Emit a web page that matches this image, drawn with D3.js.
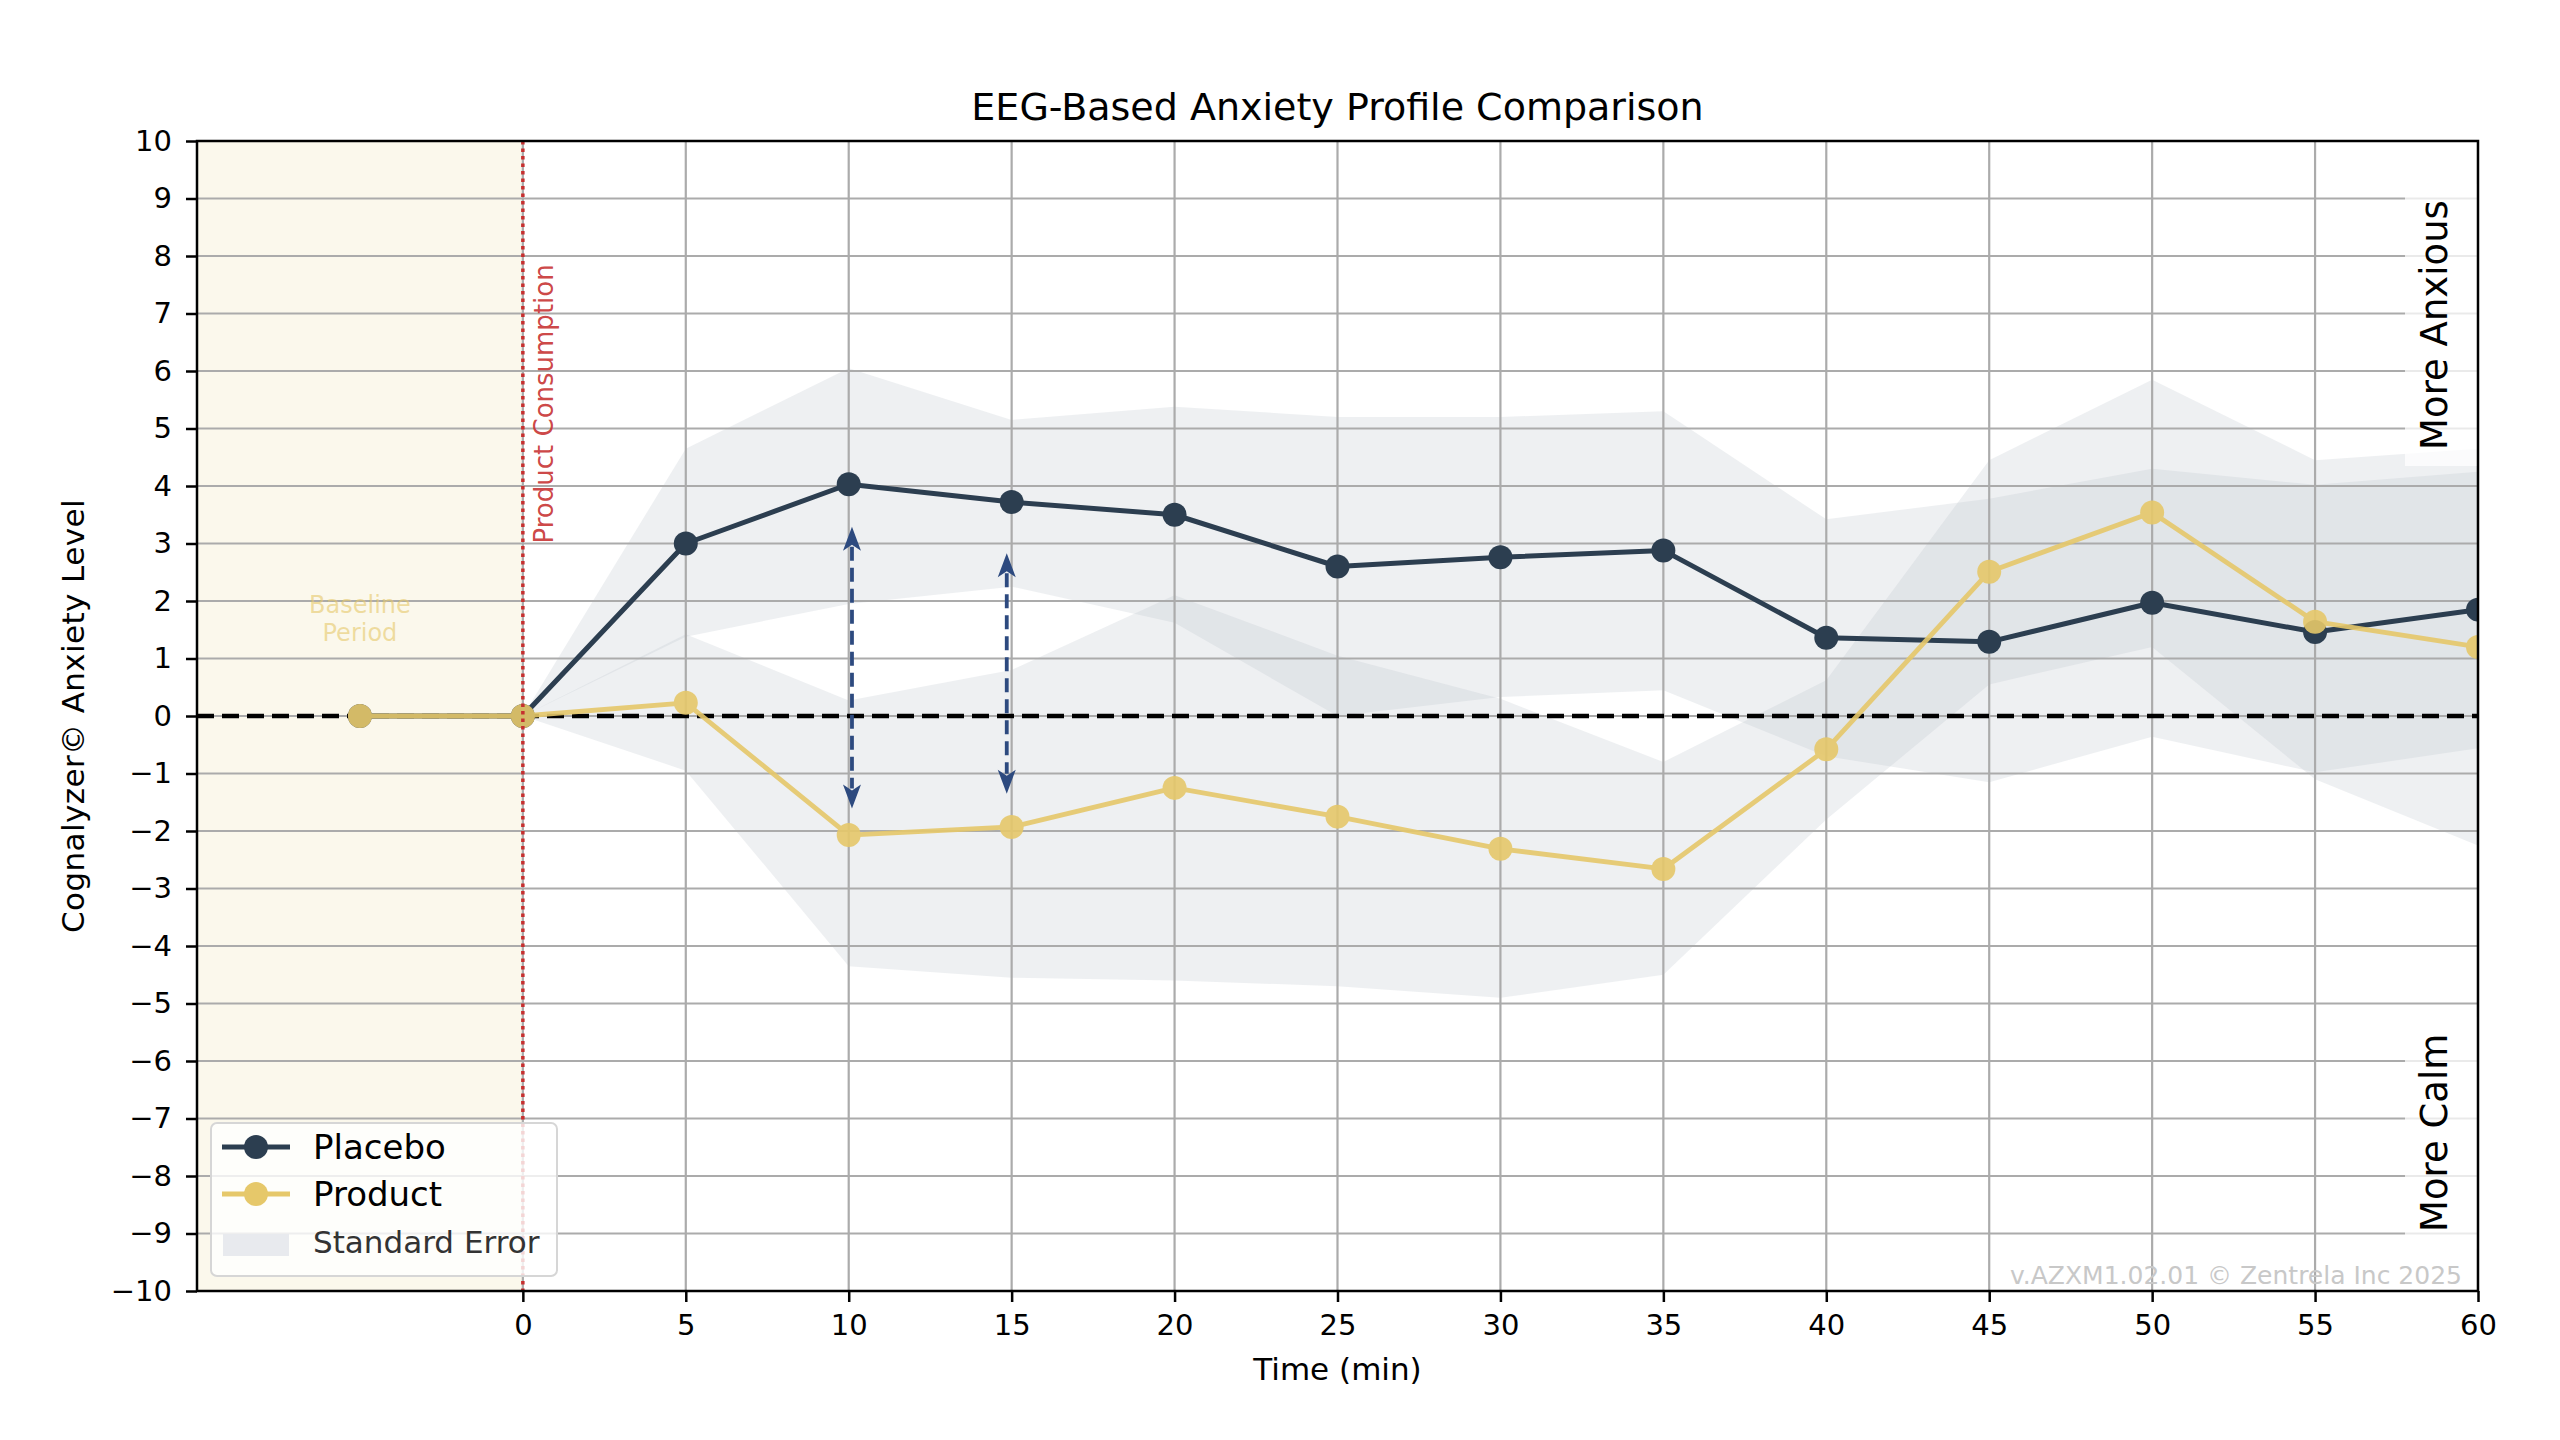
<!DOCTYPE html>
<html>
<head>
<meta charset="utf-8">
<script src="https://cdn.jsdelivr.net/npm/d3@7"></script>
<style>
  body { margin: 0; background: #fff; }
  text { font-family: "DejaVu Sans", sans-serif; }
</style>
</head>
<body>
<svg id="chart" width="2560" height="1440"></svg>
<script>
// Data
const times = [-5, 0, 5, 10, 15, 20, 25, 30, 35, 40, 45, 50, 55, 60];
const placebo = [0, 0, 3.0, 4.03, 3.72, 3.5, 2.6, 2.76, 2.88, 1.36, 1.29, 1.97, 1.46, 1.85];
const product = [0, 0, 0.23, -2.07, -1.93, -1.25, -1.75, -2.31, -2.66, -0.58, 2.51, 3.54, 1.64, 1.2];

// Standard error bands (from consumption onwards)
const seTimes = [0, 5, 10, 15, 20, 25, 30, 35, 40, 45, 50, 55, 60];
const placeboUpper = [0, 4.65, 6.05, 5.15, 5.38, 5.2, 5.2, 5.3, 3.42, 3.78, 4.3, 4.02, 4.25];
const placeboLower = [0, 1.38, 1.95, 2.25, 1.62, 0.0, 0.33, 0.45, -0.7, -1.15, -0.36, -0.98, -0.56];
const productUpper = [0, 1.42, 0.27, 0.8, 2.1, 1.05, 0.3, -0.8, 0.62, 4.45, 5.85, 4.45, 4.65];
const productLower = [0, -0.95, -4.35, -4.55, -4.6, -4.7, -4.9, -4.5, -1.8, 0.55, 1.2, -1.1, -2.25];

// Difference arrows (time, from, to)
const arrowTimes = [10.1, 14.85];
const arrowTops = [3.29, 2.83];
const arrowBottoms = [-1.61, -1.35];

const xTicks = [0, 5, 10, 15, 20, 25, 30, 35, 40, 45, 50, 55, 60];
const yTicks = [-10, -9, -8, -7, -6, -5, -4, -3, -2, -1, 0, 1, 2, 3, 4, 5, 6, 7, 8, 9, 10];

const colors = {
  placebo: '#2c3e50',
  product: '#e6c86a',
  band: '#bdc3cc',
  baseline: '#fbf8ec',
  grid: '#ababab',
  consumption: '#c62f2f',
  arrow: '#2d4a7f'
};

const svg = d3.select('#chart');
const plotLeft = 197, plotRight = 2478, plotTop = 141, plotBottom = 1291;

const x = d3.scaleLinear().domain([-10, 60]).range([plotLeft, plotRight]);
const y = d3.scaleLinear().domain([-10, 10]).range([plotBottom, plotTop]);

svg.append('defs').append('clipPath').attr('id', 'plot-clip')
  .append('rect')
  .attr('x', plotLeft).attr('y', plotTop)
  .attr('width', plotRight - plotLeft).attr('height', plotBottom - plotTop);

const plot = svg.append('g').attr('clip-path', 'url(#plot-clip)');

// Baseline period shading
plot.append('rect')
  .attr('x', x(-10)).attr('y', plotTop)
  .attr('width', x(0) - x(-10)).attr('height', plotBottom - plotTop)
  .attr('fill', colors.baseline);

// Standard error bands
const area = d3.area()
  .x(d => x(d.t))
  .y0(d => y(d.lo))
  .y1(d => y(d.hi));

const placeboBand = seTimes.map((t, i) => ({ t, lo: placeboLower[i], hi: placeboUpper[i] }));
const productBand = seTimes.map((t, i) => ({ t, lo: productLower[i], hi: productUpper[i] }));

[placeboBand, productBand].forEach(band => {
  plot.append('path')
    .datum(band)
    .attr('d', area)
    .attr('fill', colors.band)
    .attr('fill-opacity', 0.25);
});

// Grid
plot.append('g')
  .selectAll('line')
  .data(yTicks)
  .enter().append('line')
  .attr('x1', plotLeft).attr('x2', plotRight)
  .attr('y1', d => y(d)).attr('y2', d => y(d))
  .attr('stroke', colors.grid)
  .attr('stroke-width', 2.2);

plot.append('g')
  .selectAll('line')
  .data(xTicks)
  .enter().append('line')
  .attr('x1', d => x(d)).attr('x2', d => x(d))
  .attr('y1', plotTop).attr('y2', plotBottom)
  .attr('stroke', colors.grid)
  .attr('stroke-width', 2.2);

// Zero reference line
plot.append('line')
  .attr('x1', plotLeft).attr('x2', plotRight)
  .attr('y1', y(0)).attr('y2', y(0))
  .attr('stroke', '#000')
  .attr('stroke-width', 4.5)
  .attr('stroke-dasharray', '17 8');

// Series
const line = d3.line()
  .x(d => x(d.t))
  .y(d => y(d.v));

const placeboData = times.map((t, i) => ({ t, v: placebo[i] }));
const productData = times.map((t, i) => ({ t, v: product[i] }));

function drawSeries(data, color, width, opacity) {
  const g = plot.append('g').attr('opacity', opacity);
  g.append('path')
    .datum(data)
    .attr('d', line)
    .attr('fill', 'none')
    .attr('stroke', color)
    .attr('stroke-width', width)
    .attr('stroke-linejoin', 'round');
  g.selectAll('circle')
    .data(data)
    .enter().append('circle')
    .attr('cx', d => x(d.t))
    .attr('cy', d => y(d.v))
    .attr('r', 12)
    .attr('fill', color);
}

drawSeries(placeboData, colors.placebo, 5, 1);
drawSeries(productData, colors.product, 4.8, 0.9);

// Product consumption marker
plot.append('line')
  .attr('x1', x(0)).attr('x2', x(0))
  .attr('y1', plotTop).attr('y2', plotBottom)
  .attr('stroke', colors.consumption)
  .attr('stroke-width', 3.5)
  .attr('stroke-dasharray', '3.5 4');

svg.append('text')
  .attr('transform', `translate(${x(0) + 30},${y(3)}) rotate(-90)`)
  .attr('fill', colors.consumption)
  .attr('fill-opacity', 0.9)
  .attr('font-size', 26)
  .text('Product Consumption');

// Baseline label
const baseLabel = svg.append('text')
  .attr('text-anchor', 'middle')
  .attr('fill', colors.product)
  .attr('fill-opacity', 0.6)
  .attr('font-size', 24);
baseLabel.append('tspan').attr('x', x(-5)).attr('y', 613).text('Baseline');
baseLabel.append('tspan').attr('x', x(-5)).attr('y', 641).text('Period');

// Difference arrows
const arrowLayer = svg.append('g');
arrowTimes.forEach((t, i) => {
  const ax = x(t);
  const yTop = y(arrowTops[i]);
  const yBot = y(arrowBottoms[i]);
  const headLen = 24, headHalf = 9;
  arrowLayer.append('line')
    .attr('x1', ax).attr('x2', ax)
    .attr('y1', yTop + headLen - 4).attr('y2', yBot - headLen + 4)
    .attr('stroke', colors.arrow)
    .attr('stroke-width', 3.8)
    .attr('stroke-dasharray', '14 7');
  arrowLayer.append('path')
    .attr('d', `M${ax},${yTop} L${ax + headHalf},${yTop + headLen} L${ax},${yTop + headLen - 6} L${ax - headHalf},${yTop + headLen} Z`)
    .attr('fill', colors.arrow);
  arrowLayer.append('path')
    .attr('d', `M${ax},${yBot} L${ax + headHalf},${yBot - headLen} L${ax},${yBot - headLen + 6} L${ax - headHalf},${yBot - headLen} Z`)
    .attr('fill', colors.arrow);
});

// Direction labels on the right
function sideLabel(label, cy, halfLen) {
  svg.append('rect')
    .attr('x', 2405).attr('y', cy - halfLen - 14)
    .attr('width', plotRight - 2405).attr('height', 2 * halfLen + 28)
    .attr('fill', '#fff')
    .attr('fill-opacity', 0.75);
  svg.append('text')
    .attr('transform', `translate(2447,${cy}) rotate(-90)`)
    .attr('text-anchor', 'middle')
    .attr('font-size', 37)
    .attr('fill', '#000')
    .text(label);
}
sideLabel('More Anxious', y(6.8), 127);
sideLabel('More Calm', y(-7.25), 102);

// Watermark
svg.append('text')
  .attr('x', 2462).attr('y', 1284)
  .attr('text-anchor', 'end')
  .attr('font-size', 25)
  .attr('fill', '#c8c8c8')
  .text('v.AZXM1.02.01 \u00a9 Zentrela Inc 2025');

// Axes
const fmt = d => d < 0 ? '\u2212' + Math.abs(d) : String(d);

const yAxis = svg.append('g')
  .attr('transform', `translate(${plotLeft},0)`)
  .call(d3.axisLeft(y).tickValues(yTicks).tickFormat(fmt).tickSize(11).tickSizeOuter(0).tickPadding(14));

const xAxis = svg.append('g')
  .attr('transform', `translate(0,${plotBottom})`)
  .call(d3.axisBottom(x).tickValues(xTicks).tickFormat(fmt).tickSize(11).tickSizeOuter(0).tickPadding(12));

[yAxis, xAxis].forEach(ax => {
  ax.select('.domain').remove();
  ax.selectAll('.tick line').attr('stroke', '#000').attr('stroke-width', 2.5);
  ax.selectAll('.tick text')
    .attr('font-family', '"DejaVu Sans", sans-serif')
    .attr('font-size', 29)
    .attr('fill', '#000');
});

svg.append('rect')
  .attr('x', plotLeft).attr('y', plotTop)
  .attr('width', plotRight - plotLeft).attr('height', plotBottom - plotTop)
  .attr('fill', 'none')
  .attr('stroke', '#000')
  .attr('stroke-width', 2.5);

// Titles
svg.append('text')
  .attr('x', (plotLeft + plotRight) / 2).attr('y', 120)
  .attr('text-anchor', 'middle')
  .attr('font-size', 38)
  .attr('fill', '#000')
  .text('EEG-Based Anxiety Profile Comparison');

svg.append('text')
  .attr('x', (plotLeft + plotRight) / 2).attr('y', 1380)
  .attr('text-anchor', 'middle')
  .attr('font-size', 31)
  .attr('fill', '#000')
  .text('Time (min)');

svg.append('text')
  .attr('transform', `translate(84,${(plotTop + plotBottom) / 2}) rotate(-90)`)
  .attr('text-anchor', 'middle')
  .attr('font-size', 31)
  .attr('letter-spacing', 0.4)
  .attr('fill', '#000')
  .text('Cognalyzer\u00a9 Anxiety Level');

// Legend
const legend = svg.append('g');
legend.append('rect')
  .attr('x', 211).attr('y', 1123)
  .attr('width', 346).attr('height', 153)
  .attr('rx', 6)
  .attr('fill', '#fff')
  .attr('fill-opacity', 0.8)
  .attr('stroke', '#d6d6d6')
  .attr('stroke-width', 2);

const legendItems = [
  { label: 'Placebo', color: colors.placebo, cy: 1147 },
  { label: 'Product', color: colors.product, cy: 1194 }
];
legendItems.forEach(item => {
  legend.append('line')
    .attr('x1', 222).attr('x2', 290)
    .attr('y1', item.cy).attr('y2', item.cy)
    .attr('stroke', item.color)
    .attr('stroke-width', 5);
  legend.append('circle')
    .attr('cx', 256).attr('cy', item.cy).attr('r', 12)
    .attr('fill', item.color);
  legend.append('text')
    .attr('x', 313).attr('y', item.cy + 12)
    .attr('font-family', '"Liberation Sans", Arial, sans-serif')
    .attr('font-size', 34)
    .attr('fill', '#000')
    .text(item.label);
});
legend.append('rect')
  .attr('x', 223).attr('y', 1234)
  .attr('width', 66).attr('height', 22)
  .attr('fill', '#e8eaee');
legend.append('text')
  .attr('x', 313).attr('y', 1253)
  .attr('font-size', 31)
  .attr('fill', '#333')
  .text('Standard Error');
</script>
</body>
</html>
